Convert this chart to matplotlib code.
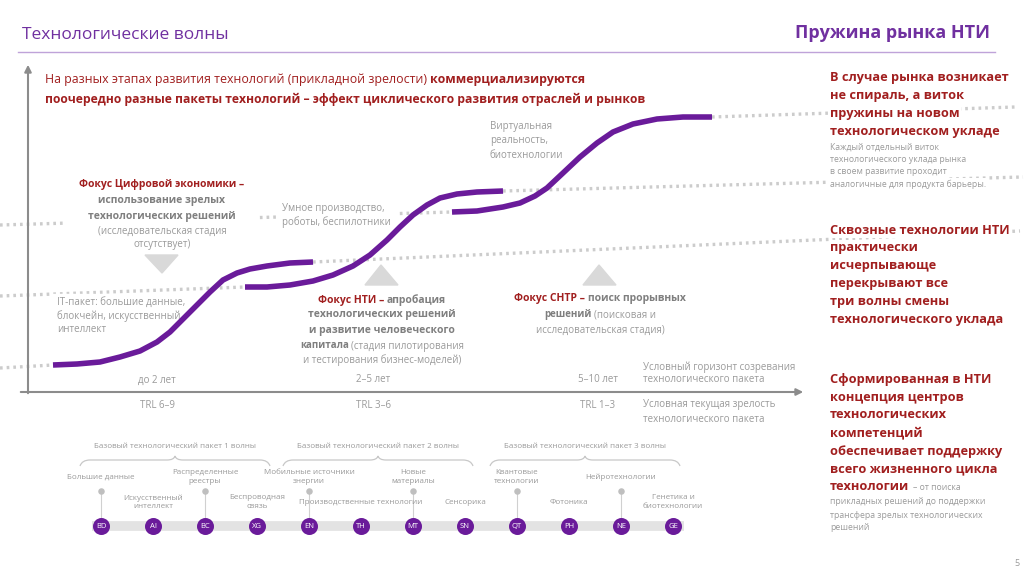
import matplotlib
matplotlib.use("Agg")
import matplotlib.pyplot as plt
from matplotlib.patches import Polygon, PathPatch
from matplotlib.path import Path
from matplotlib import font_manager

# --- данные (координаты в пикселях слайда 1024x576) ---
wave1_x = [53, 77, 100, 120, 140, 157, 170, 183, 197, 210, 223, 237, 250, 267, 290, 313]
wave1_y = [365, 364, 362, 357, 351, 342, 332, 319, 305, 292, 280, 273, 269, 266, 263, 262]
wave2_x = [245, 267, 290, 313, 333, 353, 370, 387, 400, 413, 427, 440, 457, 477, 503]
wave2_y = [287, 287, 285, 281, 275, 266, 255, 240, 227, 215, 205, 198, 194, 192, 191]
wave3_x = [452, 477, 503, 520, 535, 547, 563, 580, 597, 613, 633, 657, 683, 712]
wave3_y = [212, 211, 207, 203, 196, 188, 173, 157, 143, 132, 124, 119, 117, 117]

horizon_labels = ["до 2 лет", "2–5 лет", "5–10 лет"]
trl_labels = ["TRL 6–9", "TRL 3–6", "TRL 1–3"]
stage_x = [157, 373, 598]

tech_codes = ["BD", "AI", "BC", "XG", "EN", "TH", "MT", "SN", "QT", "PH", "NE", "GE"]
tech_names = ["Большие данные", "Искусственный\nинтеллект", "Распределенные\nреестры",
              "Беспроводная\nсвязь", "Мобильные источники\nэнергии", "Производственные технологии",
              "Новые\nматериалы", "Сенсорика", "Квантовые\nтехнологии", "Фотоника",
              "Нейротехнологии", "Генетика и\nбиотехнологии"]
wave_packs = ["Базовый технологический пакет 1 волны",
              "Базовый технологический пакет 2 волны",
              "Базовый технологический пакет 3 волны"]

PURPLE = "#6A1B9A"
HEAD = "#7030A0"
RED = "#A11F1F"
GRAY = "#7F7F7F"
LGRAY = "#9A9A9A"
DOT = "#CCCCCC"

names = {f.name for f in font_manager.fontManager.ttflist}
MAIN = "Open Sans" if "Open Sans" in names else "DejaVu Sans"
NARROW = "Liberation Sans Narrow" if "Liberation Sans Narrow" in names else MAIN
plt.rcParams["font.family"] = [MAIN, "DejaVu Sans"]

fig = plt.figure(figsize=(10.24, 5.76), dpi=100)
ax = fig.add_axes([0, 0, 1, 1])
ax.set_xlim(0, 1024)
ax.set_ylim(576, 0)
ax.axis("off")
R = fig.canvas.get_renderer()
WHITE = dict(facecolor="white", edgecolor="none", pad=1)


def put(x, y, s, size, color, weight="normal", ha="left", family=None, bg=False, z=3):
    t = ax.text(x, y, s, fontsize=size, color=color, fontweight=weight, ha=ha, va="center",
                family=family or [MAIN, "DejaVu Sans"], zorder=z, linespacing=1.25)
    if bg:
        t.set_bbox(WHITE)
    return t


def runs(x, y, parts, size, ha="left"):
    objs, widths = [], []
    for s, c, w in parts:
        t = put(0, y, s, size, c, w)
        objs.append(t)
        widths.append(t.get_window_extent(R).width)
    gap = size * 0.3
    total = sum(widths) + gap * (len(parts) - 1)
    start = x - total / 2 if ha == "center" else x
    for t, wd in zip(objs, widths):
        t.set_x(start)
        start += wd + gap
    return objs


# заголовок
put(22, 35, "Технологические волны", 12.5, HEAD)
put(990, 33, "Пружина рынка НТИ", 13, HEAD, "bold", ha="right")
ax.plot([18, 995], [52, 52], color="#BFA3D9", lw=1)

runs(45, 79, [("На разных этапах развития технологий (прикладной зрелости)", RED, "normal"),
              ("коммерциализируются", RED, "bold")], 8.9)
put(45, 99, "поочередно разные пакеты технологий – эффект циклического развития отраслей и рынков",
    8.7, RED, "bold")

# пунктирные направляющие
guides = [([0, wave1_x[0]], [368, wave1_y[0]]),
          ([0, wave2_x[0]], [296, wave2_y[0]]),
          ([0, wave3_x[0]], [225, wave3_y[0]]),
          ([wave1_x[-1], 1020], [wave1_y[-1], 231]),
          ([wave2_x[-1], 1023], [wave2_y[-1], 177]),
          ([wave3_x[-1], 1015], [wave3_y[-1], 107])]
for gx, gy in guides:
    ax.plot(gx, gy, color=DOT, lw=2.4, linestyle=(0, (0.8, 1.2)), zorder=1)

# оси
ax.annotate("", xy=(28, 62), xytext=(28, 396),
            arrowprops=dict(arrowstyle="-|>", color="#8C8C8C", lw=1.5, mutation_scale=10))
ax.annotate("", xy=(806, 392), xytext=(18, 392),
            arrowprops=dict(arrowstyle="-|>", color="#8C8C8C", lw=1.5, mutation_scale=10))

# волны
for wx, wy in [(wave1_x, wave1_y), (wave2_x, wave2_y), (wave3_x, wave3_y)]:
    ax.plot(wx, wy, color=PURPLE, lw=4, solid_capstyle="butt", solid_joinstyle="round", zorder=6)

# треугольники
ax.add_patch(Polygon([[145, 255], [178, 255], [162, 273]], color="#D9D9D9", zorder=2))
ax.add_patch(Polygon([[365, 285], [398, 285], [381, 265]], color="#D9D9D9", zorder=2))
ax.add_patch(Polygon([[583, 285], [616, 285], [599, 265]], color="#D9D9D9", zorder=2))

# белые подложки под блоками текста
for x0, y0, w, h in [(66, 177, 192, 74), (278, 199, 118, 32), (52, 294, 130, 44)]:
    ax.add_patch(plt.Rectangle((x0, y0), w, h, color="white", zorder=2))

runs(162, 185, [("Фокус Цифровой экономики –", RED, "bold")], 7.5, ha="center")
put(162, 201, "использование зрелых", 7.5, GRAY, "bold", ha="center")
put(162, 216, "технологических решений", 7.5, GRAY, "bold", ha="center")
put(162, 231, "(исследовательская стадия", 7, LGRAY, ha="center")
put(162, 244, "отсутствует)", 7, LGRAY, ha="center")

put(57, 302, "IT-пакет: большие данные,", 7, LGRAY)
put(57, 316, "блокчейн, искусственный", 7, LGRAY)
put(57, 330, "интеллект", 7, LGRAY)
put(282, 208, "Умное производство,", 7, LGRAY)
put(282, 222, "роботы, беспилотники", 7, LGRAY)
put(490, 127, "Виртуальная", 7, LGRAY)
put(490, 141, "реальность,", 7, LGRAY)
put(490, 155, "биотехнологии", 7, LGRAY)

runs(382, 300, [("Фокус НТИ –", RED, "bold"), ("апробация", GRAY, "bold")], 7.5, ha="center")
put(382, 315, "технологических решений", 7.5, GRAY, "bold", ha="center")
put(382, 330, "и развитие человеческого", 7.5, GRAY, "bold", ha="center")
runs(382, 346, [("капитала", GRAY, "bold"), ("(стадия пилотирования", LGRAY, "normal")], 7, ha="center")
put(382, 360, "и тестирования бизнес-моделей)", 7, LGRAY, ha="center")

runs(600, 299, [("Фокус СНТР –", RED, "bold"), ("поиск прорывных", GRAY, "bold")], 7.5, ha="center")
runs(600, 315, [("решений", GRAY, "bold"), ("(поисковая и", LGRAY, "normal")], 7, ha="center")
put(600, 330, "исследовательская стадия)", 7, LGRAY, ha="center")

for sx, hl, tl in zip(stage_x, horizon_labels, trl_labels):
    put(sx, 380, hl, 7, LGRAY, ha="center", family=[NARROW, "DejaVu Sans"])
    put(sx, 405, tl, 7, LGRAY, ha="center", family=[NARROW, "DejaVu Sans"])
put(643, 367, "Условный горизонт созревания", 7, LGRAY, family=[NARROW, "DejaVu Sans"])
put(643, 380, "технологического пакета", 7, LGRAY, family=[NARROW, "DejaVu Sans"])
put(643, 405, "Условная текущая зрелость", 7, LGRAY, family=[NARROW, "DejaVu Sans"])
put(643, 420, "технологического пакета", 7, LGRAY, family=[NARROW, "DejaVu Sans"])

# шкала технологий
tx = [101 + 52 * i for i in range(len(tech_codes))]
ax.plot([92, 684], [526, 526], color="#E3E3E3", lw=7, solid_capstyle="butt", zorder=1)
ax.scatter(tx, [526] * len(tx), s=150, color=PURPLE, zorder=4, linewidths=0)
for x, code in zip(tx, tech_codes):
    put(x, 526.5, code, 5.5, "white", ha="center", z=5)
for i, (x, name) in enumerate(zip(tx, tech_names)):
    if i % 2 == 0:
        ax.plot([x, x], [491, 517], color="#D0D0D0", lw=0.8, zorder=2)
        ax.scatter([x], [491], s=22, color="#BFBFBF", zorder=3, linewidths=0)
        ny = 477
    else:
        ny = 502
    put(x, ny, name, 5.8, LGRAY, ha="center")


def brace(x0, x1, y):
    xm = (x0 + x1) / 2
    verts = [(x0, y + 6), (x0 + 2, y), (x0 + 10, y), (xm - 8, y), (xm - 1, y), (xm, y - 4),
             (xm + 1, y), (xm + 8, y), (x1 - 10, y), (x1 - 2, y), (x1, y + 6)]
    codes = [Path.MOVETO, Path.CURVE3, Path.CURVE3, Path.LINETO, Path.CURVE3, Path.CURVE3,
             Path.CURVE3, Path.CURVE3, Path.LINETO, Path.CURVE3, Path.CURVE3]
    ax.add_patch(PathPatch(Path(verts, codes), fill=False, ec="#C8C8C8", lw=0.9))


for (x0, x1), label in zip([(80, 270), (283, 473), (490, 680)], wave_packs):
    brace(x0, x1, 460)
    put((x0 + x1) / 2, 447, label, 5.8, LGRAY, ha="center")

# правая колонка
col = 830
block1 = ["В случае рынка возникает", "не спираль, а виток", "пружины на новом",
          "технологическом укладе"]
for i, s in enumerate(block1):
    put(col, 77 + 18 * i, s, 9.2, RED, "bold", bg=True)
small1 = ["Каждый отдельный виток", "технологического уклада рынка",
          "в своем развитие проходит", "аналогичные для продукта барьеры."]
for i, s in enumerate(small1):
    put(col, 147 + 12.5 * i, s, 6.2, LGRAY, bg=True)
block2 = ["Сквозные технологии НТИ", "практически", "исчерпывающе", "перекрывают все",
          "три волны смены", "технологического уклада"]
for i, s in enumerate(block2):
    put(col, 230 + 18 * i, s, 9.2, RED, "bold", bg=True)
block3 = ["Сформированная в НТИ", "концепция центров", "технологических", "компетенций",
          "обеспечивает поддержку", "всего жизненного цикла"]
for i, s in enumerate(block3):
    put(col, 379 + 18 * i, s, 9.2, RED, "bold", bg=True)
last = runs(col, 487, [("технологии", RED, "bold")], 9.2)[0]
t = put(0, 488, "– от поиска", 6.2, LGRAY)
t.set_x(col + last.get_window_extent(R).width + 4)
small3 = ["прикладных решений до поддержки", "трансфера зрелых технологических", "решений"]
for i, s in enumerate(small3):
    put(col, 502 + 13 * i, s, 6.2, LGRAY)

put(1017, 563, "5", 6.5, LGRAY, ha="center")

fig.savefig("out.png", dpi=100, facecolor="white")
